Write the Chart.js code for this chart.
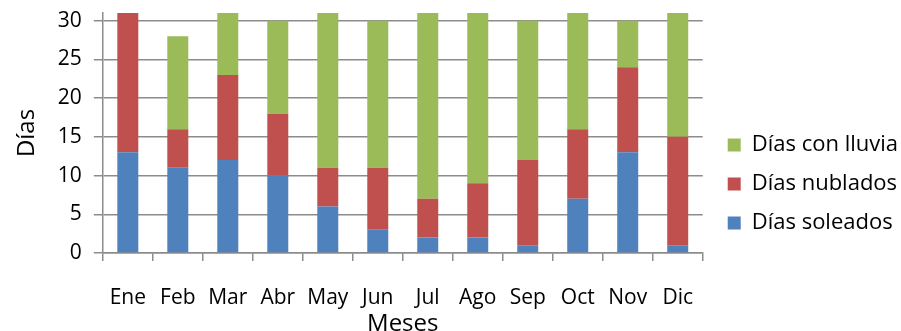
<!DOCTYPE html>
<html>
<head>
<meta charset="utf-8">
<script src="https://cdn.jsdelivr.net/npm/chart.js@4"></script>
<style>
  html, body { margin: 0; padding: 0; background: #fff; }
  #wrap { width: 901px; height: 331px; }
</style>
</head>
<body>
<div id="wrap"><canvas id="dias"></canvas></div>
<script>
var meses = ['Ene', 'Feb', 'Mar', 'Abr', 'May', 'Jun', 'Jul', 'Ago', 'Sep', 'Oct', 'Nov', 'Dic'];
var soleados = [13, 11, 12, 10, 6, 3, 2, 2, 1, 7, 13, 1];
var nublados = [18, 5, 11, 8, 5, 8, 5, 7, 11, 9, 11, 14];
var lluvia = [0, 12, 8, 12, 20, 19, 24, 22, 18, 15, 6, 16];
var marcasY = [0, 5, 10, 15, 20, 25, 30];

var gris = '#8c8c8c';
var fuente = 'Open Sans';

var ctx = document.getElementById('dias').getContext('2d');

var chart = new Chart(ctx, {
    type: 'bar',
    data: {
        labels: meses,
        datasets: [{
            label: 'Días soleados',
            data: soleados,
            backgroundColor: '#4f81bd'
        }, {
            label: 'Días nublados',
            data: nublados,
            backgroundColor: '#c0504d'
        }, {
            label: 'Días con lluvia',
            data: lluvia,
            backgroundColor: '#9bbb59'
        }]
    },
    options: {
        responsive: true,
        maintainAspectRatio: false,
        animation: false,
        datasets: {
            bar: {
                barPercentage: 0.42,
                categoryPercentage: 1
            }
        },
        layout: {
            padding: { left: 13, right: -7, top: 13, bottom: -4 }
        },
        plugins: {
            tooltip: { enabled: false },
            legend: {
                position: 'right',
                reverse: true,
                maxWidth: 300,
                title: {
                    display: true,
                    text: ' ',
                    padding: 4,
                    font: { size: 10 }
                },
                labels: {
                    boxWidth: 13,
                    boxHeight: 13,
                    padding: 17,
                    color: '#000',
                    font: { family: fuente, size: 22 }
                }
            }
        },
        scales: {
            x: {
                stacked: true,
                grid: {
                    drawOnChartArea: false,
                    offset: true,
                    tickLength: 8,
                    color: gris,
                    lineWidth: 1.5
                },
                border: { color: gris, width: 1.5 },
                ticks: {
                    color: '#000',
                    padding: 24,
                    font: { family: fuente, size: 21 }
                },
                title: {
                    display: true,
                    text: 'Meses',
                    color: '#000',
                    padding: { top: -24, bottom: -4 },
                    font: { family: fuente, size: 24 }
                }
            },
            y: {
                stacked: true,
                min: 0,
                max: 31,
                afterBuildTicks: function (axis) {
                    axis.ticks = marcasY.map(function (v) { return { value: v }; });
                },
                afterFit: function (axis) { axis.paddingTop = 0; },
                grid: {
                    tickLength: 9,
                    color: gris,
                    lineWidth: 1.5
                },
                border: { color: gris, width: 1.5 },
                ticks: {
                    color: '#000',
                    padding: 12,
                    font: { family: fuente, size: 21 }
                },
                title: {
                    display: true,
                    text: 'Días',
                    color: '#000',
                    padding: { top: 0, bottom: 4 },
                    font: { family: fuente, size: 24 }
                }
            },
            hueco: {
                position: 'right',
                display: true,
                grid: { display: false },
                border: { display: false },
                ticks: { display: false },
                afterFit: function (axis) { axis.width = 8; }
            }
        }
    }
});
</script>
</body>
</html>
